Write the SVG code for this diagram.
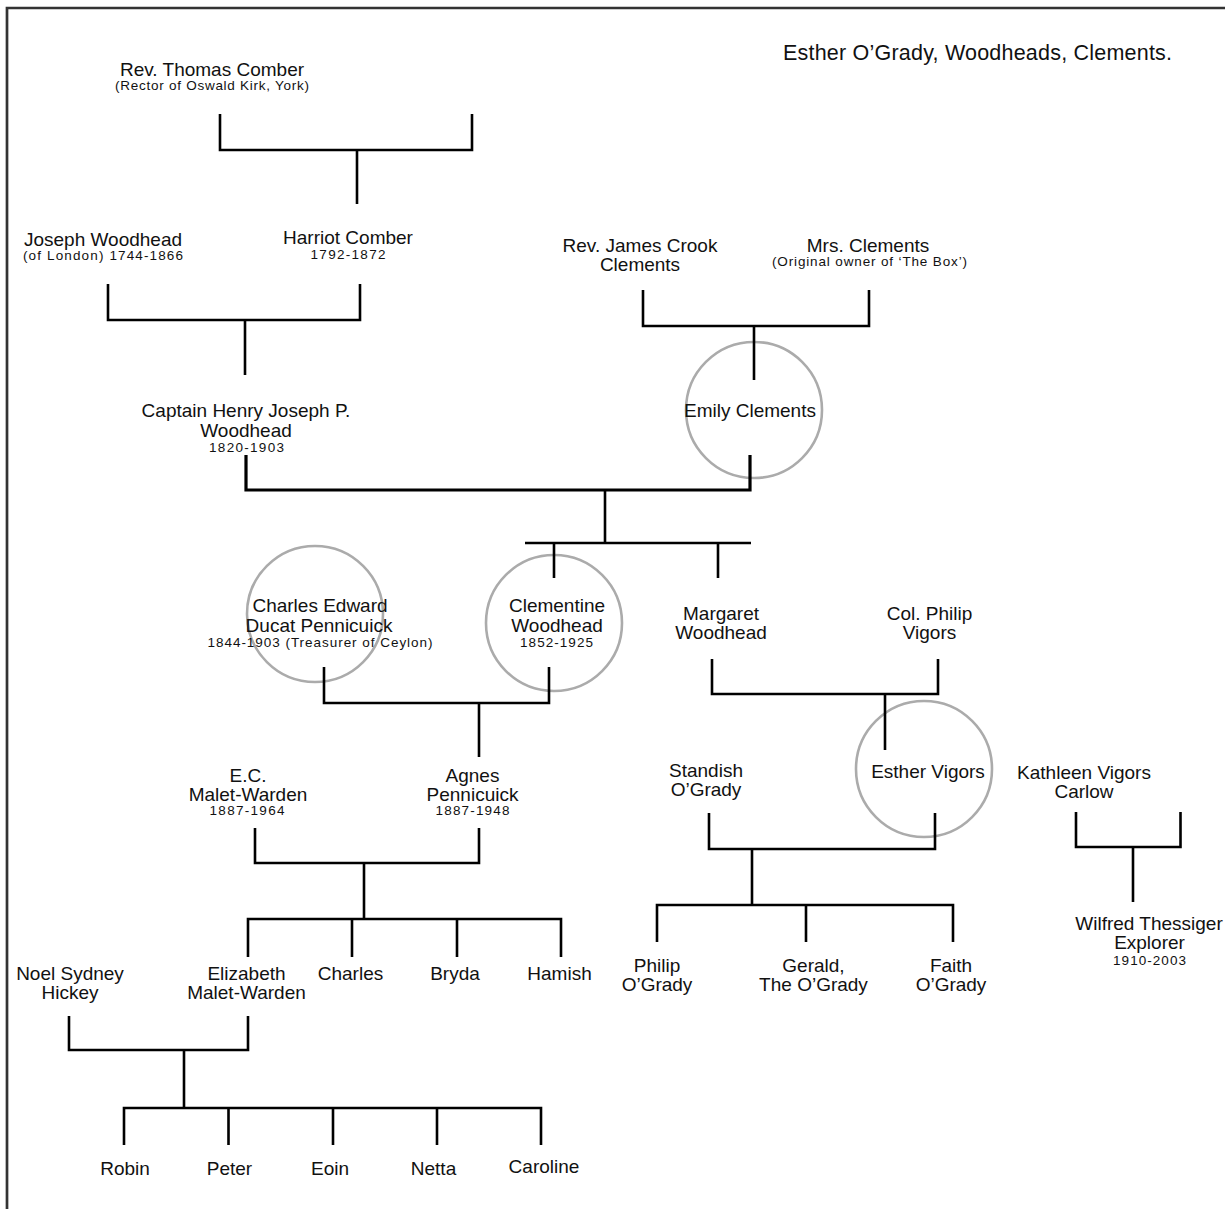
<svg xmlns="http://www.w3.org/2000/svg" width="1225" height="1209" viewBox="0 0 1225 1209">
<style>
text{font-family:"Liberation Sans",Arial,Helvetica,sans-serif;fill:#111;text-anchor:middle}
.n{font-size:19px}
.s{font-size:13.5px}
.t{font-size:21.5px;text-anchor:start}
.ring{fill:none;stroke:#ababab;stroke-width:2.6}
.c path{fill:none;stroke:#000;stroke-width:2.6;stroke-linejoin:miter;stroke-linecap:butt}
.frame{fill:none;stroke:#333;stroke-width:2.7}
</style>
<rect x="0" y="0" width="1225" height="1209" fill="#fff"/>
<path class="frame" d="M7,1215 V8 H1230"/>
<text class="t" x="783" y="60" textLength="389">Esther O’Grady, Woodheads, Clements.</text>

<g id="thomas-comber"><text class="n" x="212" y="76">Rev. Thomas Comber</text><text class="s" x="212" y="89.5" textLength="194">(Rector of Oswald Kirk, York)</text></g>
<g id="joseph-woodhead"><text class="n" x="103" y="246">Joseph Woodhead</text><text class="s" x="103" y="260" textLength="160">(of London) 1744-1866</text></g>
<g id="harriot-comber"><text class="n" x="348" y="244">Harriot Comber</text><text class="s" x="348" y="259" textLength="75">1792-1872</text></g>
<g id="james-crook-clements"><text class="n" x="640" y="251.5">Rev. James Crook</text><text class="n" x="640" y="270.5">Clements</text></g>
<g id="mrs-clements"><text class="n" x="868" y="251.5">Mrs. Clements</text><text class="s" x="869.5" y="265.5" textLength="195">(Original owner of ‘The Box’)</text></g>
<g id="emily-clements"><circle class="ring" cx="754" cy="410" r="68"/><text class="n" x="750" y="417">Emily Clements</text></g>
<g id="henry-woodhead"><text class="n" x="246" y="417">Captain Henry Joseph P.</text><text class="n" x="246" y="437">Woodhead</text><text class="s" x="246.5" y="451.5" textLength="75">1820-1903</text></g>
<g id="charles-pennicuick"><circle class="ring" cx="315" cy="614" r="68"/><text class="n" x="320" y="612">Charles Edward</text><text class="n" x="319" y="632">Ducat Pennicuick</text><text class="s" x="320" y="647" textLength="225">1844-1903 (Treasurer of Ceylon)</text></g>
<g id="clementine-woodhead"><circle class="ring" cx="554" cy="623" r="68"/><text class="n" x="557" y="612">Clementine</text><text class="n" x="557" y="632">Woodhead</text><text class="s" x="556.5" y="646.5" textLength="73">1852-1925</text></g>
<g id="margaret-woodhead"><text class="n" x="721" y="620">Margaret</text><text class="n" x="721" y="639">Woodhead</text></g>
<g id="philip-vigors"><text class="n" x="929.5" y="620">Col. Philip</text><text class="n" x="929.5" y="639">Vigors</text></g>
<g id="esther-vigors"><circle class="ring" cx="924" cy="769" r="68"/><text class="n" x="928" y="778">Esther Vigors</text></g>
<g id="standish-ogrady"><text class="n" x="706" y="776.5">Standish</text><text class="n" x="706" y="795.5">O’Grady</text></g>
<g id="kathleen-vigors-carlow"><text class="n" x="1084" y="779">Kathleen Vigors</text><text class="n" x="1084" y="798">Carlow</text></g>
<g id="ec-malet-warden"><text class="n" x="248" y="781.5">E.C.</text><text class="n" x="248" y="800.5">Malet-Warden</text><text class="s" x="247" y="815" textLength="75">1887-1964</text></g>
<g id="agnes-pennicuick"><text class="n" x="472.5" y="781.5">Agnes</text><text class="n" x="472.5" y="800.5">Pennicuick</text><text class="s" x="472.5" y="815" textLength="74">1887-1948</text></g>
<g id="philip-ogrady"><text class="n" x="657" y="971.5">Philip</text><text class="n" x="657" y="991">O’Grady</text></g>
<g id="gerald-ogrady"><text class="n" x="813.5" y="971.5">Gerald,</text><text class="n" x="813.5" y="991">The O’Grady</text></g>
<g id="faith-ogrady"><text class="n" x="951" y="971.5">Faith</text><text class="n" x="951" y="991">O’Grady</text></g>
<g id="wilfred-thessiger"><text class="n" x="1149" y="930">Wilfred Thessiger</text><text class="n" x="1149.5" y="949">Explorer</text><text class="s" x="1149.5" y="965" textLength="73">1910-2003</text></g>
<g id="noel-hickey"><text class="n" x="70" y="980">Noel Sydney</text><text class="n" x="70" y="999">Hickey</text></g>
<g id="elizabeth-malet-warden"><text class="n" x="246.5" y="980">Elizabeth</text><text class="n" x="246.5" y="999">Malet-Warden</text></g>
<g id="charles"><text class="n" x="350.5" y="980">Charles</text></g>
<g id="bryda"><text class="n" x="455" y="980">Bryda</text></g>
<g id="hamish"><text class="n" x="559.5" y="980">Hamish</text></g>
<g id="robin"><text class="n" x="125" y="1175">Robin</text></g>
<g id="peter"><text class="n" x="229.5" y="1175">Peter</text></g>
<g id="eoin"><text class="n" x="330" y="1175">Eoin</text></g>
<g id="netta"><text class="n" x="433.5" y="1175">Netta</text></g>
<g id="caroline"><text class="n" x="544" y="1173">Caroline</text></g>

<g id="connectors" class="c">
<path d="M220,114 V150 H472 V114 M357,150 V204"/>
<path d="M108,284 V320 H360 V284 M245,320 V375"/>
<path d="M643,290 V326 H869 V290 M754,326 V380"/>
<path d="M246,455 V490 H750 V455" style="stroke-width:3.2"/>
<path d="M605,490 V543 M525,543 H751 M554,543 V578 M718,543 V578"/>
<path d="M324,667 V703 H549 V667 M479,703 V757"/>
<path d="M712,659 V694 H938 V659 M885,694 V750"/>
<path d="M709,813 V849 H935 V813 M752,849 V905 M657,942 V905 H953 V942 M806,905 V942"/>
<path d="M1076,812 V847 H1180.5 V812 M1133,847 V902"/>
<path d="M255,828 V863 H479 V828 M364,863 V919 M248,957 V919 H561 V957 M352,919 V957 M457,919 V957"/>
<path d="M69,1016 V1050 H248 V1016 M184,1050 V1108 M124,1145 V1108 H541 V1145 M228.5,1108 V1145 M333,1108 V1145 M437,1108 V1145"/>
</g>
</svg>
